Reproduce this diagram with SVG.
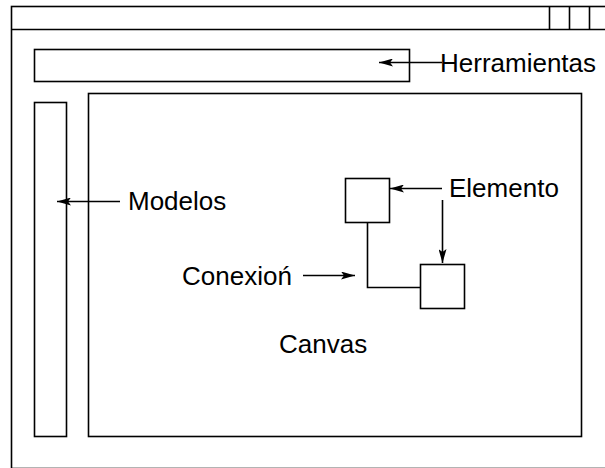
<svg xmlns="http://www.w3.org/2000/svg" width="605" height="468" viewBox="0 0 605 468">
<style>
.box{fill:none;stroke:#000;stroke-width:1.6}
.ln{fill:none;stroke:#000;stroke-width:1.6}
.t{font-family:"Liberation Sans",Arial,sans-serif;font-size:26px;fill:#000}
</style>
<defs>
<marker id="ah" viewBox="0 0 14 8" refX="14" refY="4" markerWidth="14" markerHeight="8" markerUnits="userSpaceOnUse" orient="auto">
<path d="M0,0 L14,4 L0,8 L3,4 Z" fill="#000"/>
</marker>
</defs>
<rect width="605" height="468" fill="#fff"/>
<g id="window">
<rect class="box" x="11.5" y="6.5" width="620" height="462"/>
<line class="ln" x1="11.5" y1="29.5" x2="605" y2="29.5"/>
<line class="ln" x1="549.5" y1="6.5" x2="549.5" y2="29.5"/>
<line class="ln" x1="569.5" y1="6.5" x2="569.5" y2="29.5"/>
<line class="ln" x1="589.5" y1="6.5" x2="589.5" y2="29.5"/>
</g>
<g id="herramientas">
<rect class="box" x="34.5" y="49.5" width="375" height="32"/>
<text class="t" x="440" y="72">Herramientas</text>
</g>
<g id="modelos">
<rect class="box" x="34.5" y="102.5" width="32" height="334"/>
<text class="t" x="128" y="210">Modelos</text>
</g>
<g id="canvas">
<rect class="box" x="88.5" y="93.5" width="493" height="343"/>
<text class="t" x="279" y="353">Canvas</text>
</g>
<g id="elemento1">
<rect class="box" x="345.5" y="178.5" width="44" height="44"/>
</g>
<g id="elemento2">
<rect class="box" x="420.5" y="264.5" width="44" height="44"/>
</g>
<g id="labels">
<text class="t" x="449" y="197">Elemento</text>
<text class="t" x="182" y="285">Conexioń</text>
</g>
<g id="connectors">
<path class="ln" d="M367.5,222.5 V287.5 H420.5"/>
<line class="ln" x1="442" y1="62.5" x2="379" y2="62.5" marker-end="url(#ah)"/>
<line class="ln" x1="120" y1="201.5" x2="57" y2="201.5" marker-end="url(#ah)"/>
<line class="ln" x1="442" y1="188.5" x2="390" y2="188.5" marker-end="url(#ah)"/>
<line class="ln" x1="442.5" y1="200" x2="442.5" y2="263" marker-end="url(#ah)"/>
<line class="ln" x1="303" y1="275.5" x2="355" y2="275.5" marker-end="url(#ah)"/>
</g>
</svg>
